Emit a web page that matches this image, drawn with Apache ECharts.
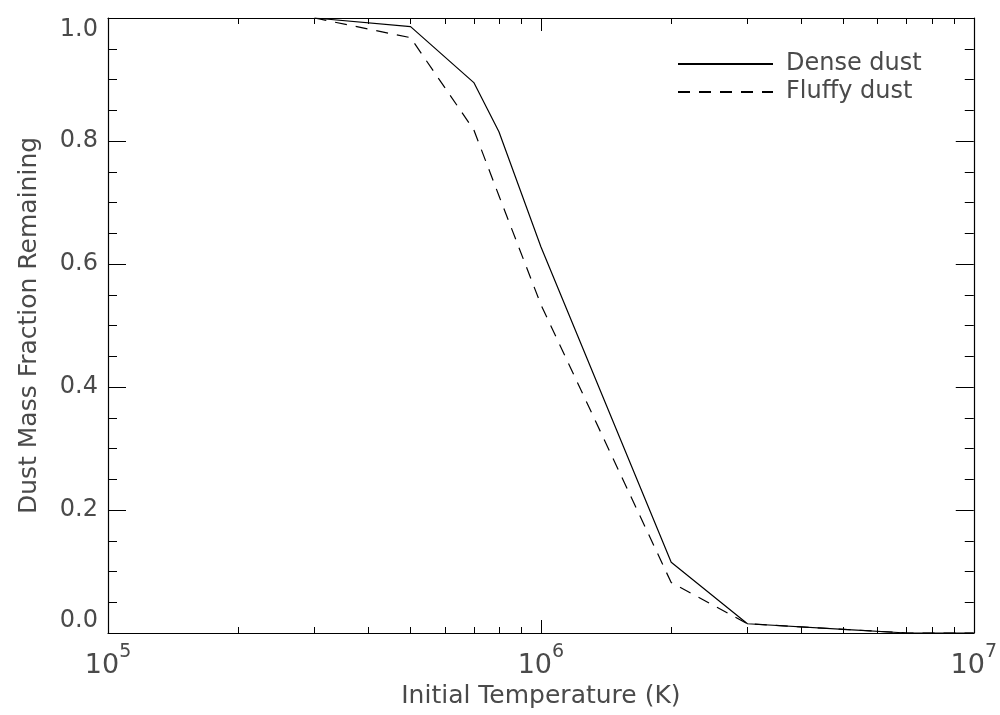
<!DOCTYPE html>
<html>
<head>
<meta charset="utf-8">
<script src="https://cdn.jsdelivr.net/npm/echarts@6/dist/echarts.min.js"></script>
<style>html,body{margin:0;padding:0;background:#fff}#c{width:1000px;height:715px}</style>
</head>
<body>
<div id="c"></div>
<script>
const temperatures = [3e5, 5e5, 7e5, 8e5, 1e6, 2e6, 3e6, 5e6, 7e6, 1e7];
const denseDust   = [1.000, 0.986, 0.895, 0.815, 0.628, 0.115, 0.015, 0.006, 0.000, 0.000];
const fluffyDust  = [1.000, 0.968, 0.818, 0.711, 0.534, 0.082, 0.015, 0.006, 0.000, 0.000];
const xMinorTicks = [2e5,3e5,4e5,5e5,6e5,7e5,8e5,9e5,2e6,3e6,4e6,5e6,6e6,7e6,8e6,9e6];
const seriesNames = ['Dense dust', 'Fluffy dust'];

const FONT = 'DejaVu Sans';
const TXT = '#4a4a4a';
const minorLog = xMinorTicks.map(v => Math.log10(v));

function pairs(ys){ return temperatures.map((t,i)=>[t, ys[i]]); }

const chart = echarts.init(document.getElementById('c'), null, {renderer:'canvas'});
const lineAxis = {show:true, lineStyle:{color:'#000', width:1.2}};

chart.setOption({
  animation:false,
  backgroundColor:'#fff',
  grid:{left:108, right:25, top:18, bottom:82, containLabel:false},
  legend:{
    orient:'vertical', left:672, top:47, itemWidth:95, itemHeight:14, itemGap:4,
    itemStyle:{opacity:0},
    textStyle:{fontFamily:FONT, fontSize:24, color:TXT, padding:[0,0,0,8]},
    data:seriesNames.map(n=>({name:n}))
  },
  xAxis:[
    {type:'log', logBase:10, min:1e5, max:1e7, position:'bottom',
     axisLine:lineAxis,
     axisTick:{inside:true, length:13, lineStyle:{color:'#000'}},
     splitLine:{show:false}, minorTick:{show:false},
     axisLabel:{margin:10, color:TXT, fontFamily:FONT,
       formatter:v=>'{b|10}{s|'+Math.round(Math.log10(v))+'}',
       rich:{b:{fontSize:27, fontFamily:FONT, color:TXT, lineHeight:36, verticalAlign:'bottom'},
             s:{fontSize:19, fontFamily:FONT, color:TXT, lineHeight:16, verticalAlign:'top'}}},
     name:'Initial Temperature (K)', nameLocation:'middle', nameGap:50,
     nameTextStyle:{fontFamily:FONT, fontSize:25, color:TXT}},
    {type:'value', min:5, max:7, position:'bottom', axisLine:{show:false},
     axisTick:{show:true, inside:true, length:6, customValues:minorLog, lineStyle:{color:'#000'}},
     axisLabel:{show:false}, splitLine:{show:false}},
    {type:'log', logBase:10, min:1e5, max:1e7, position:'top',
     axisLine:lineAxis,
     axisTick:{inside:true, length:13, lineStyle:{color:'#000'}},
     axisLabel:{show:false}, splitLine:{show:false}},
    {type:'value', min:5, max:7, position:'top', axisLine:{show:false},
     axisTick:{show:true, inside:true, length:6, customValues:minorLog, lineStyle:{color:'#000'}},
     axisLabel:{show:false}, splitLine:{show:false}}
  ],
  yAxis:[
    {type:'value', min:0, max:1, interval:0.2, position:'left',
     axisLine:lineAxis,
     axisTick:{inside:true, length:18, lineStyle:{color:'#000'}},
     minorTick:{show:true, splitNumber:4, length:9, lineStyle:{color:'#000'}},
     splitLine:{show:false},
     axisLabel:{margin:10, color:TXT, fontFamily:FONT, fontSize:24,
       formatter:v=>v.toFixed(1), verticalAlignMaxLabel:'top', verticalAlignMinLabel:'bottom'},
     name:'Dust Mass Fraction Remaining', nameLocation:'middle', nameGap:66,
     nameTextStyle:{fontFamily:FONT, fontSize:25, color:TXT}},
    {type:'value', min:0, max:1, interval:0.2, position:'right',
     axisLine:lineAxis,
     axisTick:{inside:true, length:18, lineStyle:{color:'#000'}},
     minorTick:{show:true, splitNumber:4, length:9, lineStyle:{color:'#000'}},
     splitLine:{show:false}, axisLabel:{show:false}}
  ],
  series:[
    {name:seriesNames[0], type:'line', xAxisIndex:0, yAxisIndex:0, data:pairs(denseDust),
     symbol:'none', lineStyle:{color:'#000', width:1.2, type:'solid'}, itemStyle:{color:'#000'}},
    {name:seriesNames[1], type:'line', xAxisIndex:0, yAxisIndex:0, data:pairs(fluffyDust),
     symbol:'none', lineStyle:{color:'#000', width:1.2, type:[12,9]}, itemStyle:{color:'#000'}}
  ]
});
</script>
</body>
</html>
